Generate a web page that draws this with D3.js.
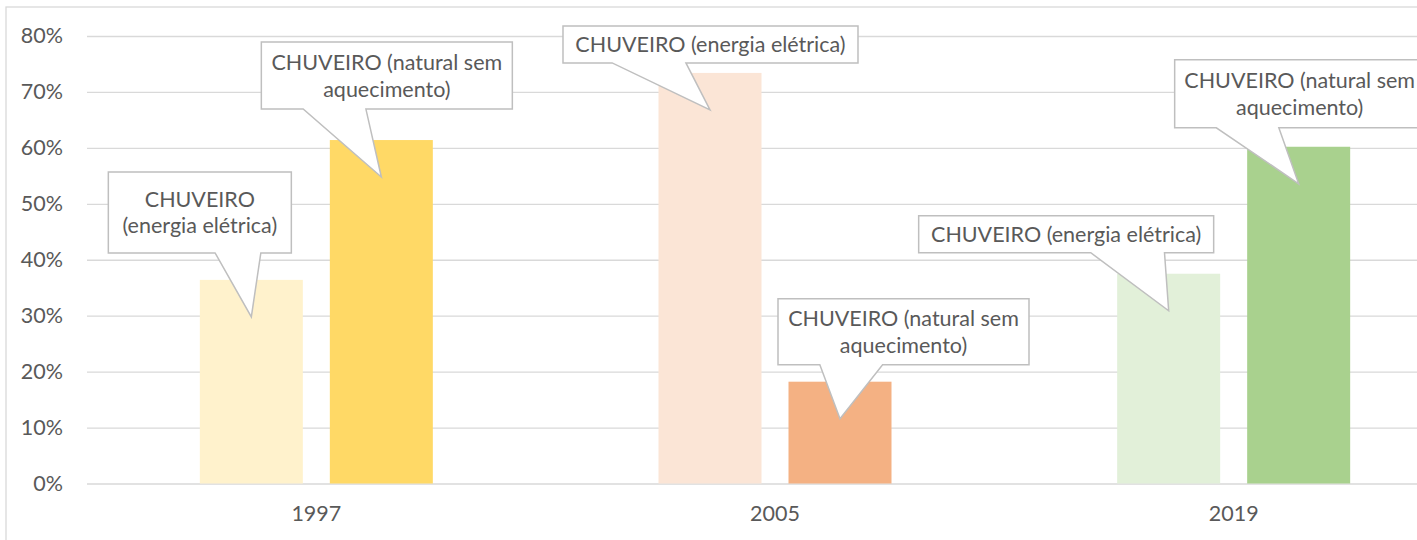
<!DOCTYPE html>
<html>
<head>
<meta charset="utf-8">
<script src="https://cdn.jsdelivr.net/npm/d3@7"></script>
<style>
  body { margin: 0; background: #fff; overflow: hidden; }
  svg { display: block; }
  text { font-family: Lato, "Open Sans", sans-serif; fill: #595959; }
</style>
</head>
<body>
<script>
var years = ['1997', '2005', '2019'];
var seriesNames = ['CHUVEIRO (energia elétrica)', 'CHUVEIRO (natural sem aquecimento)'];
var eletrica = [0.364, 0.734, 0.375];
var natural = [0.614, 0.182, 0.602];
var yTicks = [0, 0.1, 0.2, 0.3, 0.4, 0.5, 0.6, 0.7, 0.8];

// one colour per bar (light / dark shade per year)
var colEletrica = ['#FFF2CC', '#FBE5D6', '#E2F0D9'];
var colNatural = ['#FFD966', '#F4B183', '#A9D18E'];

// label text lines per bar
var linesEletrica = [['CHUVEIRO', '(energia elétrica)'], ['CHUVEIRO (energia elétrica)'], ['CHUVEIRO (energia elétrica)']];
var linesNatural = [['CHUVEIRO (natural sem', 'aquecimento)'], ['CHUVEIRO (natural sem', 'aquecimento)'], ['CHUVEIRO (natural sem', 'aquecimento)']];

// callout box placement relative to the pointer tip: [dx of box centre, dy of box bottom, w, h]
var boxEletrica = [[-51.5, -64, 183, 81], [0.5, -47, 295, 37], [-102.5, -58, 295, 37]];
var boxNatural = [[5.5, -68, 251, 67], [63.5, -54, 251, 66], [1, -56, 250, 68]];

var W = 1417, H = 540;
var FS = 21.5;
var svg = d3.select('body').append('svg').attr('width', W).attr('height', H);

// chart border
svg.append('rect')
    .attr('x', 6).attr('y', 7)
    .attr('width', W + 20).attr('height', H + 20)
    .attr('fill', 'none').attr('stroke', '#D9D9D9').attr('stroke-width', 1.3);

var x = d3.scaleBand().domain(years).range([87, 1463]);
var x1 = d3.scaleBand().domain([0, 1]).range([0, 233]).paddingInner(0.2077);
var y = d3.scaleLinear().domain([0, 0.8]).range([483.5, 36]);

var yAxis = d3.axisLeft(y)
    .tickValues(yTicks)
    .tickFormat(d3.format('.0%'))
    .tickSize(-(1463 - 87))
    .tickPadding(24);

var gy = svg.append('g').attr('transform', 'translate(87,0)').call(yAxis);
gy.select('.domain').remove();
gy.selectAll('.tick line').attr('stroke', '#D9D9D9').attr('stroke-width', 1.3);
gy.selectAll('.tick text').attr('font-size', FS).attr('fill', '#595959')
    .style('font-family', 'Lato, sans-serif');

var xAxis = d3.axisBottom(x).tickSize(0).tickPadding(22);
var gx = svg.append('g').attr('transform', 'translate(0,' + y(0) + ')').call(xAxis);
gx.select('.domain').remove();
gx.selectAll('.tick text').attr('font-size', FS).attr('fill', '#595959')
    .style('font-family', 'Lato, sans-serif');

// flatten bars
var bars = [];
years.forEach(function(yr, i) {
    bars.push({ year: yr, s: 0, v: eletrica[i], color: colEletrica[i], lines: linesEletrica[i], box: boxEletrica[i] });
    bars.push({ year: yr, s: 1, v: natural[i], color: colNatural[i], lines: linesNatural[i], box: boxNatural[i] });
});

function barX(d) { return x(d.year) + (x.bandwidth() - 233) / 2 + x1(d.s); }

svg.selectAll('rect.bar')
    .data(bars)
    .enter().append('rect')
        .attr('class', 'bar')
        .attr('x', barX)
        .attr('y', function(d) { return y(d.v); })
        .attr('width', x1.bandwidth())
        .attr('height', function(d) { return y(0) - y(d.v); })
        .attr('fill', function(d) { return d.color; });

// callouts
var callouts = svg.selectAll('g.callout')
    .data(bars)
    .enter().append('g')
        .attr('class', 'callout');

callouts.each(function(d) {
    var g = d3.select(this);
    var tx = barX(d) + x1.bandwidth() / 2;
    var ty = y(d.v) + 37;
    var cx = tx + d.box[0];
    var y1 = ty + d.box[1];
    var w = d.box[2], h = d.box[3];
    var x0 = cx - w / 2, xr = cx + w / 2, y0 = y1 - h;
    var bl, br;
    if (tx > cx) { bl = x0 + w * 7 / 12; br = x0 + w * 5 / 6; }
    else { bl = x0 + w / 6; br = x0 + w * 5 / 12; }
    var pts = [[x0, y0], [xr, y0], [xr, y1], [br, y1], [tx, ty], [bl, y1], [x0, y1]];
    g.append('path')
        .attr('d', 'M' + pts.join('L') + 'Z')
        .attr('fill', '#fff')
        .attr('stroke', '#BFBFBF')
        .attr('stroke-width', 1.5)
        .attr('stroke-linejoin', 'miter');
    var lh = 26.5;
    var n = d.lines.length;
    var mid = y0 + h / 2;
    g.selectAll('text')
        .data(d.lines)
        .enter().append('text')
            .attr('x', cx)
            .attr('y', function(t, i) { return mid + (i - (n - 1) / 2) * lh; })
            .attr('dy', '0.36em')
            .attr('text-anchor', 'middle')
            .attr('font-size', FS)
            .text(function(t) { return t; });
});
</script>
</body>
</html>
